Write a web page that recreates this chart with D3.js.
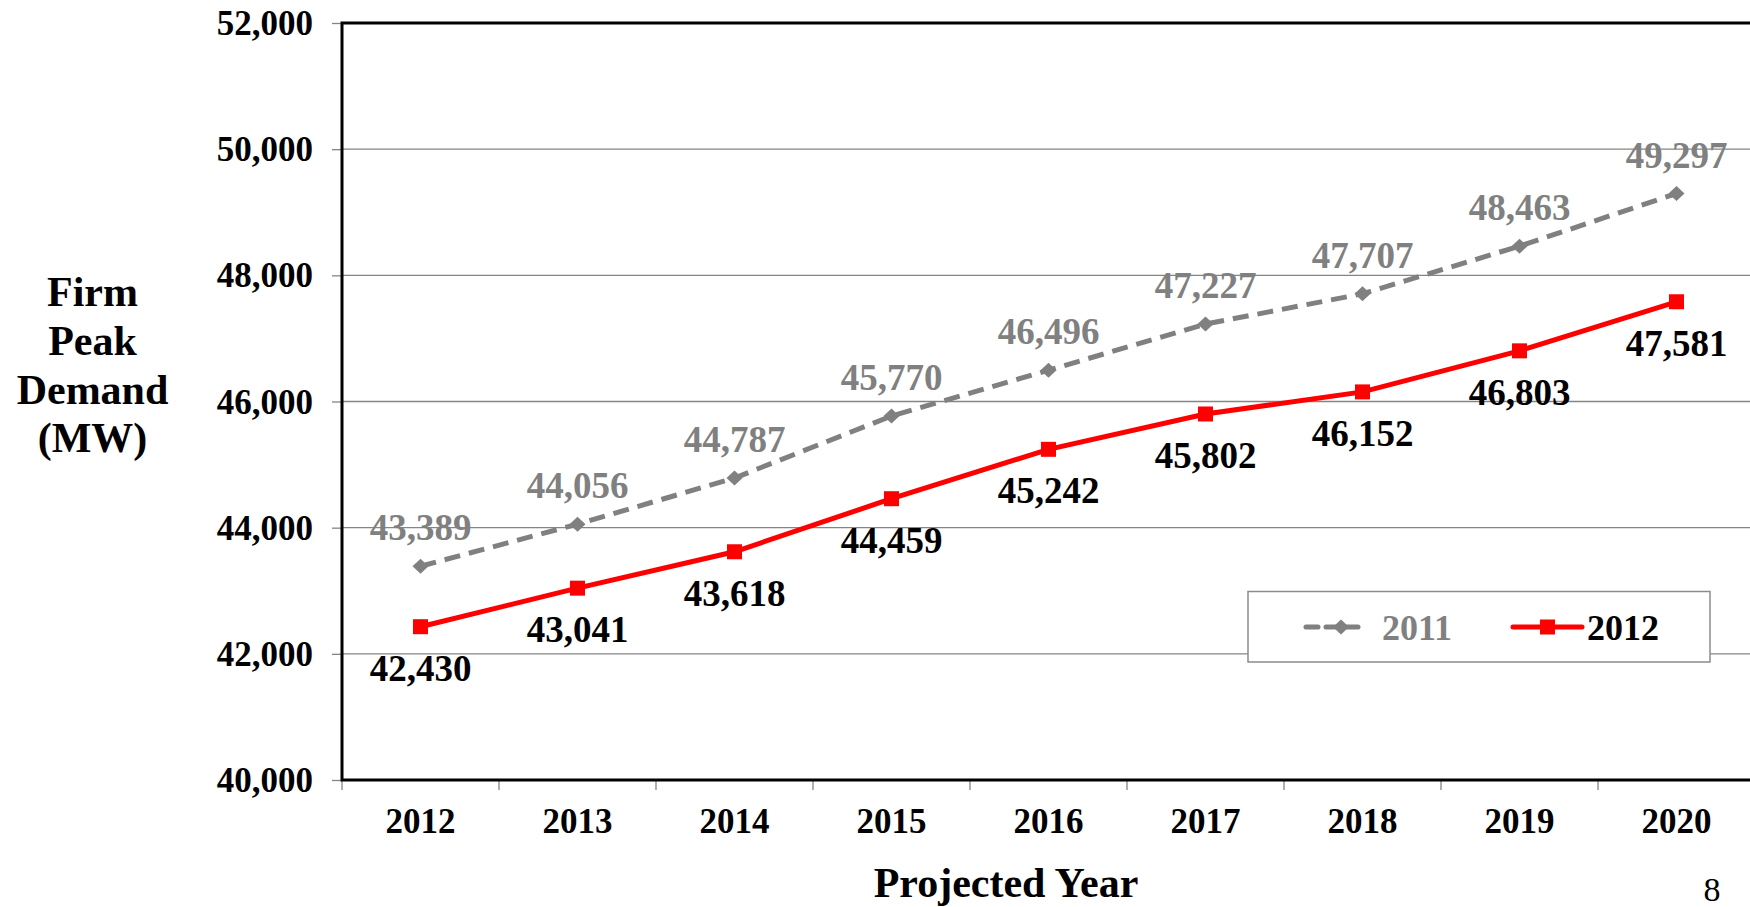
<!DOCTYPE html>
<html>
<head>
<meta charset="utf-8">
<script src="https://cdn.jsdelivr.net/npm/d3@7"></script>
<style>
  html, body { margin: 0; padding: 0; background: #fff; }
  svg { display: block; font-family: "Liberation Serif", "Times New Roman", serif; }
</style>
</head>
<body>
<svg id="chart" width="1750" height="907"></svg>
<script>
const years = ["2012","2013","2014","2015","2016","2017","2018","2019","2020"];
const series2011 = [43389, 44056, 44787, 45770, 46496, 47227, 47707, 48463, 49297];
const series2012 = [42430, 43041, 43618, 44459, 45242, 45802, 46152, 46803, 47581];
const yTicks = [40000, 42000, 44000, 46000, 48000, 50000, 52000];
const seriesNames = ["2011", "2012"];
const yTitleLines = ["Firm", "Peak", "Demand", "(MW)"];
const xTitle = "Projected Year";
const pageNumber = "8";

(function () {
const GRAY = "#808080", RED = "#ff0000";
const svg = d3.select("#chart");
const pL = 342, pR = 1755, pT = 23, pB = 780;

const x = d3.scaleBand().domain(years).range([pL, pR]).padding(0);
const y = d3.scaleLinear().domain([40000, 52000]).range([pB, pT]);
const cx = d => x(d) + x.bandwidth() / 2;
const fmt = d3.format(",");

// gridlines
svg.append("g").selectAll("line").data(yTicks.filter(t => t > 40000 && t < 52000)).join("line")
  .attr("x1", pL).attr("x2", 1750).attr("y1", d => y(d)).attr("y2", d => y(d))
  .attr("stroke", "#858585").attr("stroke-width", 1.3);

// y axis
const yAxis = svg.append("g").attr("transform", `translate(${pL},0)`)
  .call(d3.axisLeft(y).tickValues(yTicks).tickFormat(fmt).tickSize(10).tickPadding(19));
yAxis.select(".domain").remove();
yAxis.selectAll(".tick line").attr("stroke", "#858585").attr("stroke-width", 1.3);
yAxis.selectAll(".tick text").attr("font-size", 35).attr("font-weight", "bold")
  .attr("font-family", "Liberation Serif").attr("fill", "#000").attr("dy", "0.33em");

// x axis
const xAxis = svg.append("g").attr("transform", `translate(0,${pB})`)
  .call(d3.axisBottom(x).tickSize(0).tickPadding(0));
xAxis.select(".domain").remove();
xAxis.selectAll(".tick text").attr("font-size", 35).attr("font-weight", "bold")
  .attr("font-family", "Liberation Serif").attr("fill", "#000").attr("dy", 0).attr("y", 53);
// boundary ticks
const bounds = years.map(d => x(d)).concat([x(years[years.length - 1]) + x.bandwidth()]);
svg.append("g").selectAll("line").data(bounds).join("line")
  .attr("x1", d => d).attr("x2", d => d).attr("y1", pB).attr("y2", pB + 10)
  .attr("stroke", "#858585").attr("stroke-width", 1.3);

// plot frame: left, top, bottom
svg.append("path")
  .attr("d", `M${pL},${pT} L1750,${pT} M${pL},${pT - 1.5} L${pL},${pB + 1.5} M${pL},${pB} L1750,${pB}`)
  .attr("stroke", "#000").attr("stroke-width", 3).attr("fill", "none");

// lines
const line = d3.line().x((d, i) => cx(years[i])).y(d => y(d));
svg.append("path").datum(series2011).attr("d", line)
  .attr("fill", "none").attr("stroke", GRAY).attr("stroke-width", 5)
  .attr("stroke-dasharray", "16,9");
svg.append("path").datum(series2012).attr("d", line)
  .attr("fill", "none").attr("stroke", RED).attr("stroke-width", 5);

// markers
const diamond = "M0,-7.5L8,0L0,7.5L-8,0Z";
svg.append("g").selectAll("path").data(series2011).join("path")
  .attr("d", diamond).attr("fill", GRAY)
  .attr("transform", (d, i) => `translate(${cx(years[i])},${y(d)})`);
svg.append("g").selectAll("rect").data(series2012).join("rect")
  .attr("x", (d, i) => cx(years[i]) - 7.5).attr("y", d => y(d) - 7.5)
  .attr("width", 15).attr("height", 15).attr("fill", RED);

// data labels
svg.append("g").selectAll("text").data(series2011).join("text")
  .attr("x", (d, i) => cx(years[i])).attr("y", d => y(d) - 26)
  .attr("text-anchor", "middle").attr("font-size", 37).attr("font-weight", "bold")
  .attr("fill", GRAY).text(d => fmt(d));
svg.append("g").selectAll("text").data(series2012).join("text")
  .attr("x", (d, i) => cx(years[i])).attr("y", d => y(d) + 54)
  .attr("text-anchor", "middle").attr("font-size", 37).attr("font-weight", "bold")
  .attr("fill", "#000").text(d => fmt(d));

// legend
const lg = svg.append("g");
lg.append("rect").attr("x", 1248).attr("y", 591.5).attr("width", 462).attr("height", 70.5)
  .attr("fill", "#fff").attr("stroke", "#8c8c8c").attr("stroke-width", 1.5);
const ly = 627;
lg.append("line").attr("x1", 1306).attr("x2", 1366).attr("y1", ly).attr("y2", ly)
  .attr("stroke", GRAY).attr("stroke-width", 5).attr("stroke-dasharray", "12,8").attr("stroke-linecap", "round");
lg.append("path").attr("d", diamond).attr("fill", GRAY).attr("transform", `translate(1341,${ly})`);
lg.append("text").attr("x", 1382).attr("y", ly + 13).attr("font-size", 36).attr("font-weight", "bold")
  .attr("fill", GRAY).text(seriesNames[0]);
lg.append("line").attr("x1", 1513).attr("x2", 1582).attr("y1", ly).attr("y2", ly)
  .attr("stroke", RED).attr("stroke-width", 5).attr("stroke-linecap", "round");
lg.append("rect").attr("x", 1540).attr("y", ly - 7.5).attr("width", 15).attr("height", 15).attr("fill", RED);
lg.append("text").attr("x", 1587).attr("y", ly + 13).attr("font-size", 36).attr("font-weight", "bold")
  .attr("fill", "#000").text(seriesNames[1]);

// y title
svg.append("text").attr("text-anchor", "middle").attr("font-size", 42).attr("font-weight", "bold")
  .selectAll("tspan").data(yTitleLines).join("tspan")
  .attr("x", 92.5).attr("y", (d, i) => 306 + i * 48.8).text(d => d);

// x title
svg.append("text").attr("x", 1006).attr("y", 897).attr("text-anchor", "middle")
  .attr("font-size", 42).attr("font-weight", "bold").text(xTitle);

// page number
svg.append("text").attr("x", 1712).attr("y", 901).attr("text-anchor", "middle")
  .attr("font-size", 34).text(pageNumber);
})();
</script>
</body>
</html>
